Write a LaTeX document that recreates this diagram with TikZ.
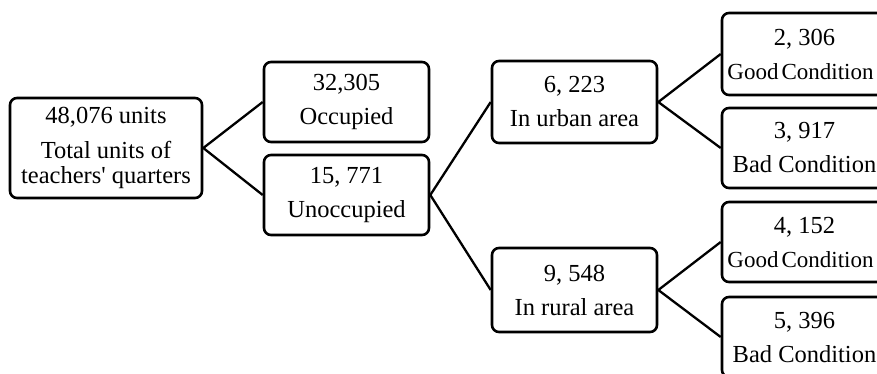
\documentclass[tikz,border=0pt]{standalone}
\usepackage{fontspec}
\setmainfont{Liberation Serif}
\tikzset{
  box/.style={draw, line width=2.6pt, rounded corners=7pt, align=center, inner sep=0pt,
    minimum width=165pt, minimum height=80pt, font=\fontsize{24.5}{26}\selectfont},
  link/.style={line width=2.3pt}
}
\newcommand{\goodcond}{{\fontsize{23}{26}\selectfont Good\hspace{3pt}Condition\hspace*{8pt}}}
\begin{document}
\begin{tikzpicture}[x=1pt, y=-1pt]
\clip (0,0) rectangle (877,373);
\fill[white] (0,0) rectangle (877,373);

% Total units
\node[box, minimum width=192pt, minimum height=100pt, font=\fontsize{24.5}{25}\selectfont]
  (total) at (106,148) {48,076 units\\[10pt]Total units of\\teachers\textquotesingle{} quarters};

% Occupied / unoccupied
\node[box] (occ) at (346.5,102) {32,305\\[8pt]Occupied};
\node[box] (unocc) at (346.5,195) {15, 771\\[8pt]Unoccupied};

% Urban / rural
\node[box, minimum height=82pt] (urban) at (574.5,102) {6, 223\\[8pt]In urban area};
\node[box, minimum height=84pt] (rural) at (574.5,290) {9, 548\\[8pt]In rural area};

% Condition
\node[box, minimum height=82pt] (goodU) at (804.5,54) {2, 306\\[8pt]\goodcond};
\node[box] (badU) at (804.5,148) {3, 917\\[8pt]Bad Condition};
\node[box] (goodR) at (804.5,242) {4, 152\\[8pt]\goodcond};
\node[box] (badR) at (804.5,337) {5, 396\\[8pt]Bad Condition};

% Connectors
\draw[link] (total.east) -- (occ.west);
\draw[link] (total.east) -- (unocc.west);
\draw[link] (unocc.east) -- (urban.west);
\draw[link] (unocc.east) -- (rural.west);
\draw[link] (urban.east) -- (goodU.west);
\draw[link] (urban.east) -- (badU.west);
\draw[link] (rural.east) -- (goodR.west);
\draw[link] (rural.east) -- (badR.west);
\end{tikzpicture}
\end{document}
